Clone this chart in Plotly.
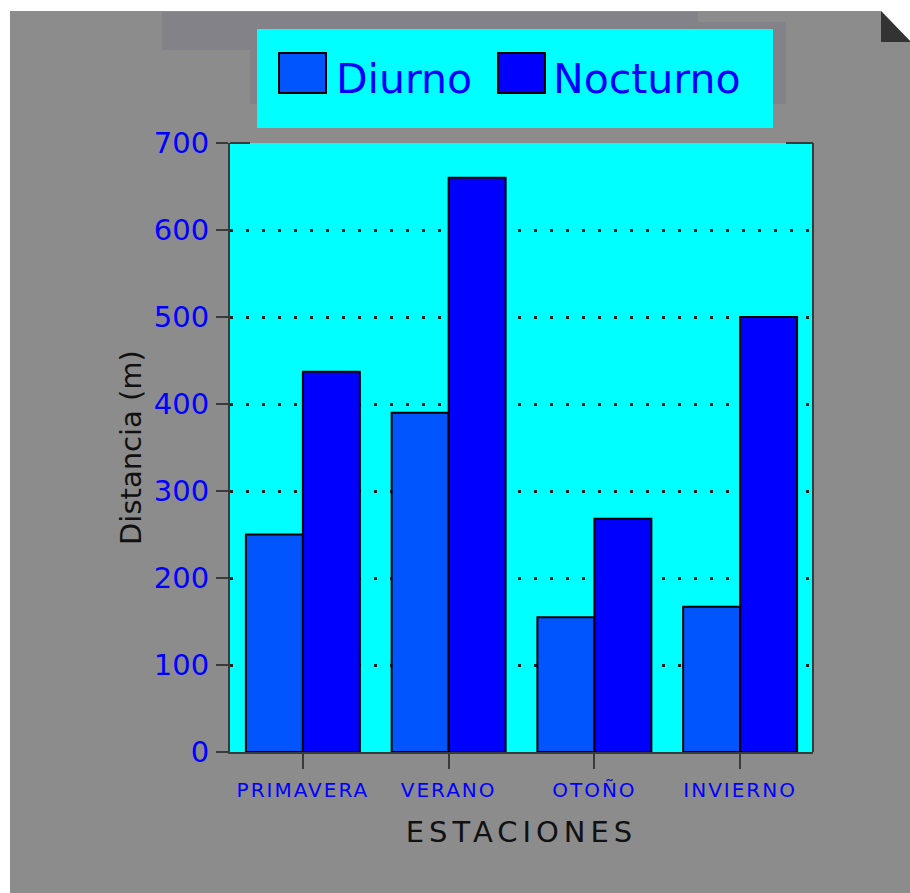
import plotly.graph_objects as go

# ---- data ----
categories = ["PRIMAVERA", "VERANO", "OTOÑO", "INVIERNO"]
diurno = [250, 390, 155, 167]
nocturno = [437, 660, 268, 500]
series_names = ["Diurno", "Nocturno"]
series_colors = ["#0055ff", "#0000ff"]
y_tick_values = [0, 100, 200, 300, 400, 500, 600, 700]
x_title = "ESTACIONES"
y_title = "Distancia (m)"

# ---- geometry helpers (pixel -> paper) ----
W, H = 910, 893
L, R, T, B = 230, 813, 143, 752


def px(x):
    return (x - L) / (R - L)


def py(y):
    return (B - y) / (B - T)


FONT = "DejaVu Sans"
BG = "#8c8c8c"
DARK = "#838288"
AXC = "#3a3a3a"

fig = go.Figure()
for name, vals, col in zip(series_names, [diurno, nocturno], series_colors):
    fig.add_trace(go.Bar(
        x=categories, y=vals, name=name,
        marker=dict(color=col, line=dict(color="#000000", width=2)),
        showlegend=False,
    ))

shapes = []
# white outer strips and folded corner
shapes.append(dict(type="rect", xref="paper", yref="paper", x0=px(-5), x1=px(915), y0=py(-5), y1=py(11),
                   fillcolor="white", line=dict(width=0), layer="below"))
shapes.append(dict(type="rect", xref="paper", yref="paper", x0=px(-5), x1=px(10), y0=py(-5), y1=py(898),
                   fillcolor="white", line=dict(width=0), layer="below"))
shapes.append(dict(type="path", xref="paper", yref="paper",
                   path=f"M {px(881)} {py(11)} L {px(911)} {py(11)} L {px(911)} {py(42)} Z",
                   fillcolor="white", line=dict(width=0), layer="below"))
shapes.append(dict(type="path", xref="paper", yref="paper",
                   path=f"M {px(881)} {py(11)} L {px(881)} {py(42)} L {px(911)} {py(42)} Z",
                   fillcolor="#333333", line=dict(width=0), layer="below"))
# darker bands behind legend
shapes.append(dict(type="rect", xref="paper", yref="paper", x0=px(162), x1=px(698), y0=py(50), y1=py(12),
                   fillcolor=DARK, line=dict(width=0), layer="below"))
shapes.append(dict(type="rect", xref="paper", yref="paper", x0=px(250), x1=px(786), y0=py(104), y1=py(22),
                   fillcolor=DARK, line=dict(width=0), layer="below"))
# legend box
shapes.append(dict(type="rect", xref="paper", yref="paper", x0=px(257), x1=px(773), y0=py(128), y1=py(29),
                   fillcolor="#00ffff", line=dict(width=0), layer="above"))
swatch_x = [(279, 326), (498, 545)]
text_x = [334, 551]
annotations = []
for (x0, x1), tx, name, col in zip(swatch_x, text_x, series_names, series_colors):
    shapes.append(dict(type="rect", xref="paper", yref="paper", x0=px(x0), x1=px(x1), y0=py(93), y1=py(53),
                       fillcolor=col, line=dict(color="black", width=2), layer="above"))
    annotations.append(dict(xref="paper", yref="paper", x=px(tx), y=py(79), xanchor="left", yanchor="middle",
                            text=name, showarrow=False, font=dict(family=FONT, size=41, color="#0000ff")))
# right border and top partial segments
shapes.append(dict(type="line", xref="paper", yref="paper", x0=1, x1=1, y0=0, y1=1,
                   line=dict(color=AXC, width=2), layer="above"))
shapes.append(dict(type="line", xref="paper", yref="paper", x0=px(230), x1=px(250), y0=1, y1=1,
                   line=dict(color=AXC, width=2), layer="above"))
shapes.append(dict(type="line", xref="paper", yref="paper", x0=px(786), x1=1, y0=1, y1=1,
                   line=dict(color=AXC, width=2), layer="above"))

fig.update_layout(
    width=W, height=H,
    margin=dict(l=L, r=W - R, t=T, b=H - B, autoexpand=False),
    paper_bgcolor=BG, plot_bgcolor="#00ffff",
    barmode="group", bargap=0.218, bargroupgap=0,
    shapes=shapes, annotations=annotations,
    showlegend=False,
    font=dict(family=FONT),
)
fig.update_xaxes(
    showline=True, linecolor=AXC, linewidth=2,
    ticks="outside", ticklen=15, tickwidth=2, tickcolor=AXC,
    tickfont=dict(family=FONT, size=20, color="#0000ff"),
    ticklabelstandoff=4,
    showgrid=False,
    title=dict(text=x_title, font=dict(family=FONT, size=29, color="#111111"), standoff=21),
)
fig.update_yaxes(
    range=[0, 700], tickvals=y_tick_values,
    showline=True, linecolor=AXC, linewidth=2,
    ticks="outside", ticklen=12, tickwidth=2, tickcolor=AXC,
    tickfont=dict(family=FONT, size=29, color="#0000ff"),
    ticklabelstandoff=1,
    showgrid=True, gridcolor="#222222", gridwidth=3, griddash="3px,13px",
    zeroline=False,
    title=dict(text=y_title, font=dict(family=FONT, size=29, color="#111111"), standoff=4),
)

post = ("var s=document.createElement('style');"
        "s.textContent='html,body{margin:0;padding:0;overflow:hidden}"
        ".xtick text{letter-spacing:2px}.xtitle{letter-spacing:5px}';"
        "document.head.appendChild(s);")
fig.write_html("out.html", post_script=post, config={"displayModeBar": False})
